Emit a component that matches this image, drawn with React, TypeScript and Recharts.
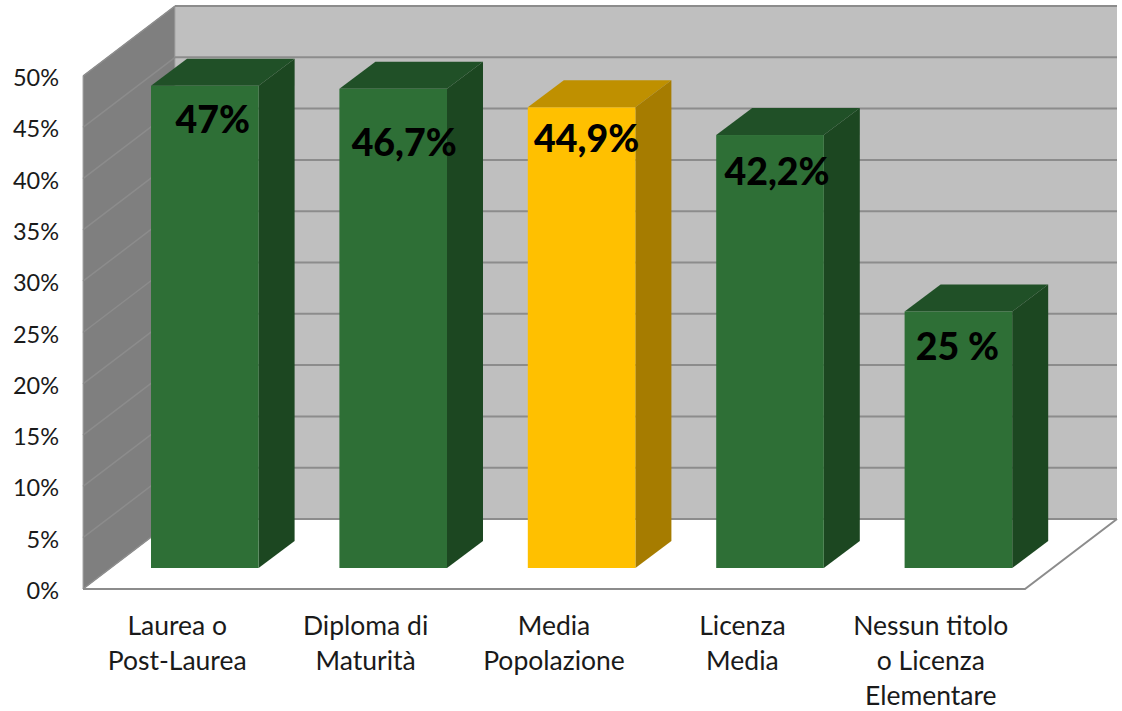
import React from 'react';
import { BarChart, Bar, XAxis, YAxis, CartesianGrid, LabelList } from 'recharts';

const categories = ['Laurea o\nPost-Laurea', 'Diploma di\nMaturità', 'Media\nPopolazione', 'Licenza\nMedia', 'Nessun titolo\no Licenza\nElementare'];
const values = [47, 46.7, 44.9, 42.2, 25];
const valueLabels = ['47%', '46,7%', '44,9%', '42,2%', '25 %'];
const yTicks = [0, 5, 10, 15, 20, 25, 30, 35, 40, 45, 50];

const rows = categories.map((name, i) => ({ name, value: values[i], label: valueLabels[i] }));

// 3D look, in pixels
const DEPTH_X = 92;
const DEPTH_Y = 70;
const BAR_DX = 28;
const BAR_DY = -21;
const BAR_DEPTH_X = 36;
const BAR_DEPTH_Y = 27;
const FONT = 'Lato, sans-serif';

const green = { front: '#2E6F36', top: '#205027', side: '#1C4721' };
const yellow = { front: '#FFC000', top: '#BF9000', side: '#A67C00' };
const HIGHLIGHT = 2;

// where the value text sits relative to the top centre of the bar face
const labelNudge = [[8, 33], [11, 53], [5, 30], [7, 35], [-1, 34]];

const GridLine = (p: any) => {
  const { x, y, width, height, x1, x2, y1, index } = p;
  const gridColor = '#8C8C8C';
  return (
    <g key={p.key}>
      {index === 0 && (
        <g>
          <polygon
            points={`${x + DEPTH_X},${y - DEPTH_Y} ${x + width + DEPTH_X},${y - DEPTH_Y} ${x + width + DEPTH_X},${y + height - DEPTH_Y} ${x + DEPTH_X},${y + height - DEPTH_Y}`}
            fill="#BFBFBF"
          />
          <polygon
            points={`${x},${y} ${x + DEPTH_X},${y - DEPTH_Y} ${x + DEPTH_X},${y + height - DEPTH_Y} ${x},${y + height}`}
            fill="#7F7F7F"
            stroke="#A6A6A6"
            strokeWidth={1}
          />
          <polyline
            points={`${x},${y + height} ${x + width},${y + height} ${x + width + DEPTH_X},${y + height - DEPTH_Y}`}
            fill="none"
            stroke={gridColor}
            strokeWidth={2}
          />
        </g>
      )}
      <line x1={x1} y1={y1} x2={x1 + DEPTH_X} y2={y1 - DEPTH_Y} stroke={gridColor} strokeWidth={1.5} />
      <line x1={x1 + DEPTH_X} y1={y1 - DEPTH_Y} x2={x2 + DEPTH_X} y2={y1 - DEPTH_Y} stroke={gridColor} strokeWidth={2} />
    </g>
  );
};

const Box3D = (p: any) => {
  const { width, height, index } = p;
  const x = p.x + BAR_DX;
  const y = p.y + BAR_DY;
  const c = index === HIGHLIGHT ? yellow : green;
  const dx = BAR_DEPTH_X;
  const dy = BAR_DEPTH_Y;
  return (
    <g>
      <polygon
        points={`${x},${y} ${x + dx},${y - dy} ${x + width + dx},${y - dy} ${x + width},${y}`}
        fill={c.top}
      />
      <polygon
        points={`${x + width},${y} ${x + width + dx},${y - dy} ${x + width + dx},${y + height - dy} ${x + width},${y + height}`}
        fill={c.side}
      />
      <rect x={x} y={y} width={width} height={height} fill={c.front} />
    </g>
  );
};

const ValueLabel = (p: any) => {
  const { x, y, width, value, index } = p;
  const [nx, ny] = labelNudge[index];
  return (
    <text
      x={x + BAR_DX + width / 2 + nx}
      y={y + BAR_DY + ny}
      textAnchor="middle"
      dominantBaseline="central"
      fontFamily={FONT}
      fontWeight={900}
      fontSize={37.5}
      fill="#000"
    >
      {value}
    </text>
  );
};

const CategoryTick = (p: any) => {
  const { x, y, payload } = p;
  return (
    <text x={x} y={y} textAnchor="middle" fontFamily={FONT} fontSize={26.5} fill="#1a1a1a">
      {String(payload.value).split('\n').map((line, i) => (
        <tspan key={i} x={x} dy={i === 0 ? 38 : 35}>{line}</tspan>
      ))}
    </text>
  );
};

const PercentTick = (p: any) => {
  const { x, y, payload } = p;
  return (
    <text x={x} y={y + 1} textAnchor="end" dominantBaseline="central" fontFamily={FONT} fontSize={23.5} fill="#1a1a1a">
      {`${payload.value}%`}
    </text>
  );
};

export default function App() {
  return (
    <div style={{ position: 'absolute', left: 0, top: 0, width: 1122, height: 711 }}>
      <BarChart
        width={1122}
        height={711}
        data={rows}
        barSize={107.6}
        margin={{ top: 76, right: 97, bottom: 0, left: 0 }}
      >
        <CartesianGrid vertical={false} horizontal={GridLine as any} />
        <XAxis dataKey="name" axisLine={false} tickLine={false} height={122} interval={0} tick={CategoryTick as any} />
        <YAxis
          width={83}
          domain={[0, 50]}
          ticks={yTicks}
          interval={0}
          axisLine={false}
          tickLine={false}
          tickSize={0}
          tickMargin={24}
          tick={PercentTick as any}
        />
        <Bar dataKey="value" shape={Box3D as any} isAnimationActive={false}>
          <LabelList dataKey="label" content={ValueLabel as any} />
        </Bar>
      </BarChart>
    </div>
  );
}
